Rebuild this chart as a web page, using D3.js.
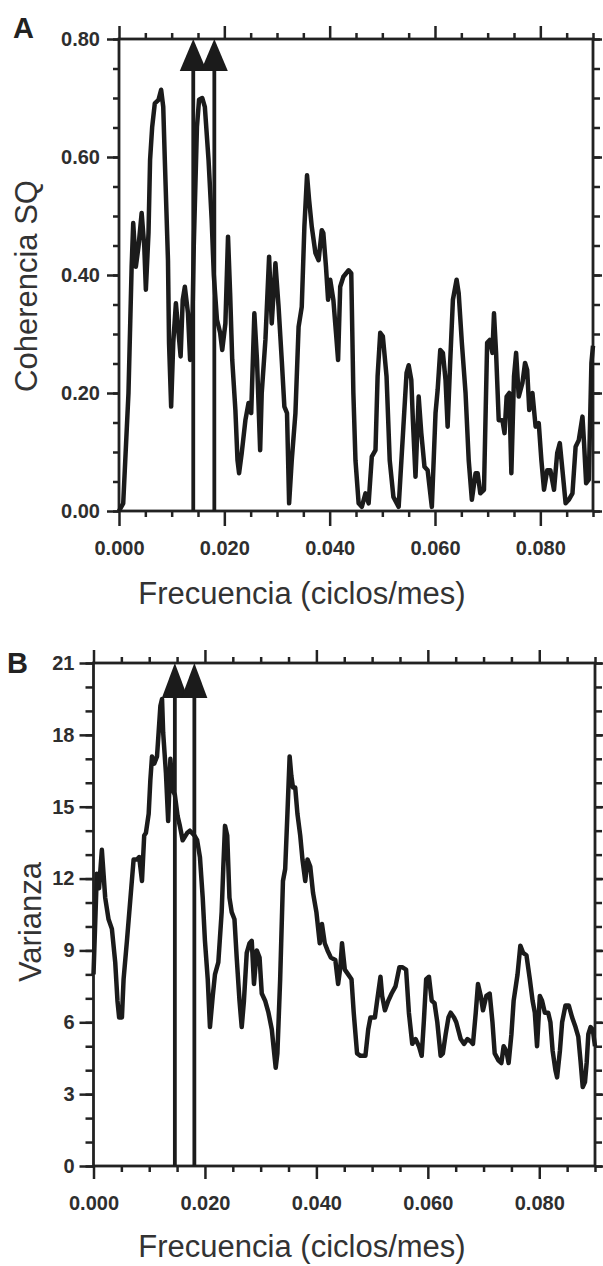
<!DOCTYPE html>
<html>
<head>
<meta charset="utf-8">
<script src="https://cdn.jsdelivr.net/npm/d3@7"></script>
<style>
  body { margin: 0; background: #fff; }
  .tick line { stroke: #222; stroke-width: 2.5px; }
  .tick text { font-family: "Liberation Sans", Arial, sans-serif; font-size: 20px; font-weight: bold; fill: #2e2e2e; }
  .title { font-family: "Liberation Sans", Arial, sans-serif; font-size: 31px; fill: #333; }
  .letter { font-family: "Liberation Sans", Arial, sans-serif; font-size: 29px; font-weight: bold; fill: #222; }
</style>
</head>
<body>
<div id="chart"></div>
<script>
// shared x axis (ciclos/mes)
var xMax = 0.09;
var xTicks = [0, 0.02, 0.04, 0.06, 0.08];

// panel A: coherencia al cuadrado
var freqA = [0.0000, 0.0008, 0.0018, 0.0024, 0.0027, 0.0032, 0.0037, 0.0043, 0.0048, 0.0051,
  0.0056, 0.0059, 0.0063, 0.0068, 0.0075, 0.0080, 0.0084, 0.0087, 0.0093, 0.0095,
  0.0099, 0.0103, 0.0108, 0.0112, 0.0117, 0.0121, 0.0125, 0.0131, 0.0135, 0.0139,
  0.0142, 0.0148, 0.0152, 0.0158, 0.0163, 0.0170, 0.0176, 0.0180, 0.0186, 0.0192,
  0.0196, 0.0202, 0.0207, 0.0211, 0.0215, 0.0221, 0.0225, 0.0228, 0.0233, 0.0240,
  0.0246, 0.0251, 0.0257, 0.0262, 0.0268, 0.0271, 0.0278, 0.0285, 0.0290, 0.0297,
  0.0303, 0.0309, 0.0314, 0.0319, 0.0323, 0.0328, 0.0335, 0.0341, 0.0347, 0.0352,
  0.0357, 0.0361, 0.0366, 0.0373, 0.0379, 0.0385, 0.0388, 0.0393, 0.0397, 0.0401,
  0.0407, 0.0412, 0.0416, 0.0420, 0.0426, 0.0436, 0.0441, 0.0445, 0.0449, 0.0455,
  0.0461, 0.0468, 0.0474, 0.0480, 0.0487, 0.0491, 0.0496, 0.0501, 0.0508, 0.0514,
  0.0521, 0.0531, 0.0540, 0.0546, 0.0550, 0.0555, 0.0558, 0.0563, 0.0569, 0.0574,
  0.0580, 0.0586, 0.0594, 0.0601, 0.0605, 0.0610, 0.0615, 0.0620, 0.0624, 0.0629,
  0.0634, 0.0641, 0.0645, 0.0651, 0.0658, 0.0664, 0.0670, 0.0677, 0.0681, 0.0686,
  0.0693, 0.0699, 0.0704, 0.0709, 0.0712, 0.0716, 0.0721, 0.0728, 0.0732, 0.0736,
  0.0741, 0.0745, 0.0750, 0.0754, 0.0759, 0.0766, 0.0771, 0.0775, 0.0779, 0.0785,
  0.0791, 0.0797, 0.0802, 0.0807, 0.0813, 0.0819, 0.0826, 0.0832, 0.0837, 0.0842,
  0.0848, 0.0854, 0.0861, 0.0867, 0.0873, 0.0880, 0.0883, 0.0887, 0.0892, 0.0897,
  0.0900];
var coherenciaA = [0.000, 0.013, 0.200, 0.414, 0.488, 0.414, 0.448, 0.505, 0.448, 0.375,
  0.471, 0.595, 0.651, 0.691, 0.697, 0.714, 0.685, 0.595, 0.425, 0.285,
  0.177, 0.285, 0.352, 0.312, 0.262, 0.358, 0.380, 0.335, 0.256, 0.300,
  0.450, 0.651, 0.697, 0.700, 0.685, 0.595, 0.493, 0.400, 0.324, 0.302,
  0.273, 0.318, 0.465, 0.369, 0.256, 0.171, 0.086, 0.064, 0.098, 0.154,
  0.183, 0.166, 0.335, 0.256, 0.103, 0.200, 0.290, 0.431, 0.318, 0.420,
  0.346, 0.256, 0.177, 0.166, 0.013, 0.086, 0.166, 0.312, 0.346, 0.482,
  0.569, 0.527, 0.482, 0.437, 0.425, 0.476, 0.471, 0.414, 0.358, 0.392,
  0.358, 0.302, 0.256, 0.380, 0.397, 0.408, 0.403, 0.200, 0.086, 0.013,
  0.007, 0.030, 0.013, 0.092, 0.103, 0.228, 0.302, 0.296, 0.228, 0.086,
  0.024, 0.007, 0.143, 0.234, 0.247, 0.222, 0.154, 0.058, 0.194, 0.132,
  0.075, 0.069, 0.007, 0.166, 0.205, 0.273, 0.268, 0.222, 0.143, 0.256,
  0.358, 0.392, 0.369, 0.285, 0.200, 0.086, 0.019, 0.064, 0.064, 0.030,
  0.036, 0.285, 0.290, 0.268, 0.335, 0.268, 0.154, 0.154, 0.132, 0.194,
  0.200, 0.064, 0.228, 0.268, 0.194, 0.217, 0.251, 0.239, 0.171, 0.200,
  0.143, 0.149, 0.086, 0.036, 0.069, 0.069, 0.036, 0.098, 0.115, 0.069,
  0.013, 0.019, 0.030, 0.109, 0.120, 0.160, 0.115, 0.047, 0.053, 0.251,
  0.280];
var arrowsA = [0.0141, 0.0181];
var yTicksA = [0, 0.2, 0.4, 0.6, 0.8];

// panel B: varianza
var freqB = [0.0000, 0.0006, 0.0010, 0.0015, 0.0021, 0.0027, 0.0033, 0.0039, 0.0043, 0.0046,
  0.0051, 0.0054, 0.0060, 0.0066, 0.0072, 0.0078, 0.0082, 0.0087, 0.0091, 0.0094,
  0.0099, 0.0102, 0.0105, 0.0109, 0.0114, 0.0116, 0.0120, 0.0123, 0.0125, 0.0130,
  0.0134, 0.0138, 0.0142, 0.0146, 0.0151, 0.0155, 0.0160, 0.0168, 0.0173, 0.0181,
  0.0186, 0.0191, 0.0196, 0.0200, 0.0205, 0.0209, 0.0214, 0.0218, 0.0224, 0.0230,
  0.0233, 0.0236, 0.0240, 0.0244, 0.0248, 0.0253, 0.0257, 0.0262, 0.0266, 0.0270,
  0.0275, 0.0280, 0.0284, 0.0288, 0.0293, 0.0298, 0.0302, 0.0308, 0.0314, 0.0320,
  0.0323, 0.0327, 0.0330, 0.0335, 0.0340, 0.0344, 0.0348, 0.0352, 0.0355, 0.0358,
  0.0362, 0.0366, 0.0371, 0.0375, 0.0380, 0.0384, 0.0389, 0.0394, 0.0400, 0.0406,
  0.0410, 0.0415, 0.0420, 0.0426, 0.0434, 0.0439, 0.0443, 0.0446, 0.0451, 0.0457,
  0.0463, 0.0467, 0.0473, 0.0479, 0.0488, 0.0493, 0.0497, 0.0505, 0.0509, 0.0515,
  0.0518, 0.0523, 0.0529, 0.0535, 0.0542, 0.0549, 0.0554, 0.0561, 0.0566, 0.0572,
  0.0578, 0.0584, 0.0589, 0.0593, 0.0597, 0.0602, 0.0607, 0.0612, 0.0617, 0.0623,
  0.0627, 0.0632, 0.0637, 0.0641, 0.0647, 0.0651, 0.0659, 0.0665, 0.0671, 0.0677,
  0.0681, 0.0686, 0.0690, 0.0695, 0.0699, 0.0705, 0.0711, 0.0716, 0.0720, 0.0727,
  0.0732, 0.0736, 0.0741, 0.0745, 0.0750, 0.0754, 0.0761, 0.0766, 0.0771, 0.0777,
  0.0783, 0.0788, 0.0792, 0.0796, 0.0801, 0.0805, 0.0810, 0.0816, 0.0820, 0.0824,
  0.0829, 0.0832, 0.0837, 0.0841, 0.0847, 0.0853, 0.0859, 0.0865, 0.0870, 0.0874,
  0.0878, 0.0882, 0.0885, 0.0888, 0.0892, 0.0896, 0.0900];
var varianzaB = [8.0, 12.2, 11.6, 13.2, 11.2, 10.3, 9.9, 8.5, 6.9, 6.2,
  6.2, 7.8, 9.4, 11.1, 12.8, 12.8, 12.9, 11.9, 13.8, 13.9,
  14.7, 16.1, 17.1, 16.8, 17.1, 17.8, 19.2, 19.5, 18.1, 16.4,
  14.4, 17.0, 15.7, 15.5, 14.6, 14.2, 13.6, 13.9, 14.0, 13.8,
  13.6, 12.9, 11.2, 9.4, 7.8, 5.8, 7.1, 8.0, 8.5, 10.6,
  12.5, 14.2, 13.8, 11.2, 10.6, 10.3, 8.7, 6.9, 5.8, 6.9,
  8.9, 9.3, 9.4, 7.6, 9.0, 8.7, 7.2, 6.9, 6.4, 5.7,
  5.0, 4.1, 4.7, 7.8, 11.9, 12.4, 14.7, 17.1, 16.3, 15.8,
  15.8, 14.7, 13.8, 12.8, 11.9, 12.8, 12.5, 11.4, 10.6, 9.3,
  10.1, 9.3, 9.0, 8.7, 8.6, 7.6, 8.3, 9.3, 8.2, 8.0,
  7.8, 6.4, 4.7, 4.6, 4.6, 5.7, 6.2, 6.2, 6.9, 7.9,
  7.1, 6.5, 6.9, 7.2, 7.5, 8.3, 8.3, 8.2, 6.4, 5.1,
  5.3, 5.0, 4.6, 6.1, 7.8, 7.9, 6.9, 6.8, 6.0, 4.6,
  4.7, 5.5, 6.2, 6.4, 6.2, 6.0, 5.3, 5.1, 5.3, 5.2,
  5.1, 6.4, 7.6, 7.1, 6.5, 7.1, 7.2, 6.0, 4.7, 4.4,
  4.3, 5.0, 4.8, 4.3, 5.5, 6.9, 8.0, 9.2, 8.9, 8.8,
  7.8, 6.9, 6.4, 5.0, 7.1, 6.9, 6.4, 6.4, 6.0, 4.8,
  4.0, 3.7, 4.8, 6.0, 6.7, 6.7, 6.2, 5.8, 5.4, 4.4,
  3.3, 3.5, 4.3, 5.5, 5.8, 5.7, 5.0];
var arrowsB = [0.0146, 0.0181];
var yTicksB = [0, 3, 6, 9, 12, 15, 18, 21];

var svg = d3.select("#chart")
  .append("svg")
  .attr("width", 603)
  .attr("height", 1266);

// draw one framed panel with its curve, arrows and axes
var drawPanel = function(cfg) {
  var w = cfg.width, h = cfg.height;
  var g = svg.append("g")
    .attr("transform", "translate(" + cfg.left + "," + cfg.top + ")");

  var x = d3.scaleLinear().domain([0, xMax]).range([0, w]);
  var y = d3.scaleLinear().domain([0, cfg.yMax]).range([h, 0]);

  // minor x ticks every 0.005, minor y ticks at cfg.yMinor
  var minorX = d3.range(0, 19).map(function(i) { return i * 0.005; })
    .filter(function(d, i) { return i % 4 != 0 || i > 16; });
  var minorY = d3.range(0, Math.round(cfg.yMax / cfg.yMinor) + 1)
    .map(function(i) { return i * cfg.yMinor; });

  // bottom axis
  g.append("g").attr("transform", "translate(0," + h + ")")
    .call(d3.axisBottom(x).tickValues(minorX).tickSize(6).tickFormat(""));
  g.append("g").attr("transform", "translate(0," + h + ")")
    .call(d3.axisBottom(x).tickValues(xTicks).tickSize(cfg.xMajor).tickPadding(cfg.xPad)
      .tickFormat(d3.format(".3f")));

  // top axis
  g.append("g")
    .call(d3.axisTop(x).tickValues(minorX).tickSize(6).tickFormat(""));
  g.append("g")
    .call(d3.axisTop(x).tickValues(xTicks).tickSize(13).tickFormat(""));

  // left axis
  g.append("g")
    .call(d3.axisLeft(y).tickValues(minorY).tickSize(cfg.yMinorSize).tickFormat(""));
  g.append("g")
    .call(d3.axisLeft(y).tickValues(cfg.yTicks).tickSize(cfg.yMajorSize).tickPadding(cfg.yPad)
      .tickFormat(cfg.yFormat));

  // right axis
  g.append("g").attr("transform", "translate(" + w + ",0)")
    .call(d3.axisRight(y).tickValues(minorY).tickSize(7).tickFormat(""));
  g.append("g").attr("transform", "translate(" + w + ",0)")
    .call(d3.axisRight(y).tickValues(cfg.yTicks).tickSize(9).tickFormat(""));

  g.selectAll(".domain").remove();

  // frame
  g.append("rect")
    .attr("width", w)
    .attr("height", h)
    .attr("fill", "none")
    .attr("stroke", "#222")
    .attr("stroke-width", 2.8);

  // spectrum curve
  var line = d3.line()
    .x(function(d) { return x(d[0]); })
    .y(function(d) { return y(d[1]); });
  g.append("path")
    .datum(d3.zip(cfg.freq, cfg.vals))
    .attr("d", line)
    .attr("fill", "none")
    .attr("stroke", "#1b1b1b")
    .attr("stroke-width", 4.5)
    .attr("stroke-linejoin", "round");

  // marked frequencies with arrowheads
  cfg.arrows.forEach(function(f) {
    var ax = x(f);
    g.append("line")
      .attr("x1", ax).attr("x2", ax)
      .attr("y1", y(0)).attr("y2", y(cfg.yMax) + cfg.headH - 2)
      .attr("stroke", "#1b1b1b")
      .attr("stroke-width", 3.8);
    g.append("path")
      .attr("d", "M" + ax + "," + y(cfg.yMax) +
        "L" + (ax - cfg.headW) + "," + (y(cfg.yMax) + cfg.headH) +
        "L" + (ax + cfg.headW) + "," + (y(cfg.yMax) + cfg.headH) + "Z")
      .attr("fill", "#1b1b1b");
  });

  // titles
  svg.append("text")
    .attr("class", "title")
    .attr("text-anchor", "middle")
    .attr("x", 302)
    .attr("y", cfg.xTitleY)
    .text("Frecuencia (ciclos/mes)");
  svg.append("text")
    .attr("class", "title")
    .attr("text-anchor", "middle")
    .attr("transform", "translate(" + cfg.yTitleX + "," + cfg.yTitleY + ") rotate(-90)")
    .text(cfg.yTitle);
  svg.append("text")
    .attr("class", "letter")
    .attr("x", cfg.letterX)
    .attr("y", cfg.letterY)
    .text(cfg.letter);
};

drawPanel({
  left: 119, top: 39, width: 474, height: 472,
  freq: freqA, vals: coherenciaA, arrows: arrowsA,
  yMax: 0.8, yMinor: 0.05, yTicks: yTicksA, yFormat: d3.format(".2f"),
  yMajorSize: 12, yMinorSize: 6, yPad: 7, xMajor: 15, xPad: 15,
  headW: 13.5, headH: 32,
  yTitle: "Coherencia SQ", yTitleX: 37, yTitleY: 286, xTitleY: 604,
  letter: "A", letterX: 13, letterY: 38
});

drawPanel({
  left: 93.5, top: 663, width: 501.5, height: 503,
  freq: freqB, vals: varianzaB, arrows: arrowsB,
  yMax: 21, yMinor: 1, yTicks: yTicksB, yFormat: d3.format("d"),
  yMajorSize: 14, yMinorSize: 8, yPad: 5, xMajor: 13, xPad: 17,
  headW: 13, headH: 35,
  yTitle: "Varianza", yTitleX: 41, yTitleY: 922, xTitleY: 1257,
  letter: "B", letterX: 7, letterY: 673
});
</script>
</body>
</html>
